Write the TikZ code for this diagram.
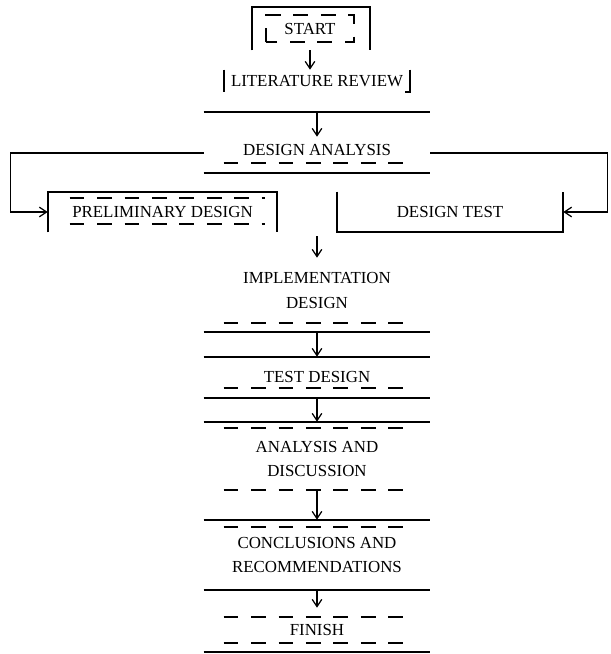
\documentclass[tikz,border=0pt]{standalone}
\usepackage{fontspec}
\setmainfont{Liberation Serif}
\usetikzlibrary{arrows.meta}

\begin{document}
\begin{tikzpicture}[
  x=0.025cm, y=-0.025cm,
  font=\fontsize{12}{17.6}\selectfont,
  >={Straight Barb[length=1.8mm, width=2.4mm]},
  stage/.style={align=center, inner sep=0pt, minimum width=4.65cm},
  sidebox/.style={align=center, inner sep=0pt, minimum height=1cm},
  rule/.style={line width=1.4pt},
  dashrule/.style={line width=1.3pt, dash pattern=on 10.5pt off 9pt},
  flow/.style={->, line width=0.9pt},
]
\useasboundingbox (0,0) rectangle (611,654);

\node[stage, minimum width=2.175cm, minimum height=0.675cm] (start) at (310,28.5) {START};
\node[stage, minimum height=0.55cm] (lit) at (317,81) {LITERATURE REVIEW};
\node[stage, minimum height=0.65cm] (ana) at (317,150) {DESIGN ANALYSIS};
\node[sidebox, minimum width=5.725cm] (prelim) at (162.5,212) {PRELIMINARY DESIGN};
\node[sidebox, minimum width=5.65cm] (dtest) at (450,212) {DESIGN TEST};
\node[stage, minimum height=1.625cm] (impl) at (317,290.5) {IMPLEMENTATION\\DESIGN};
\node[stage, minimum height=0.55cm] (test) at (317,377) {TEST DESIGN};
\node[stage, minimum height=1.55cm] (disc) at (317,459) {ANALYSIS AND\\DISCUSSION};
\node[stage, minimum height=1.4cm] (concl) at (317,555) {CONCLUSIONS AND\\RECOMMENDATIONS};
\node[stage, minimum height=0.65cm] (fin) at (317,630) {FINISH};

% frames, as far as they show
\draw[rule] ([shift={(-14,8)}]start.south west) |- ([shift={(16,-8)}]start.north east) -- ++(0,43);
\draw[dashrule] (start.south west) rectangle (start.north east);
\draw[rule] (lit.north west) -- (lit.south west);
\draw[rule] (lit.north east) -- (lit.south east) -- ++(-5,0);
\draw[rule] ([shift={(-20,20)}]lit.south west) -- ([shift={(20,20)}]lit.south east);
\draw[dashrule] (ana.south west) -- (ana.south east);
\draw[rule] ([shift={(-20,10)}]ana.south west) -- ([shift={(20,10)}]ana.south east);
\draw[rule] (prelim.south west) |- (prelim.north east) -- (prelim.south east);
\draw[dashrule] ([shift={(22,6)}]prelim.north west) -- ([shift={(-12,6)}]prelim.north east);
\draw[dashrule] ([shift={(22,-8)}]prelim.south west) -- ([shift={(-12,-8)}]prelim.south east);
\draw[rule] (dtest.north west) |- (dtest.south east) -- (dtest.north east);
\draw[dashrule] (impl.south west) -- (impl.south east);
\draw[rule] ([shift={(-20,9)}]impl.south west) -- ([shift={(20,9)}]impl.south east);
\draw[rule] ([shift={(-20,-9)}]test.north west) -- ([shift={(20,-9)}]test.north east);
\draw[dashrule] (test.south west) -- (test.south east);
\draw[rule] ([shift={(-20,10)}]test.south west) -- ([shift={(20,10)}]test.south east);
\draw[rule] ([shift={(-20,-6)}]disc.north west) -- ([shift={(20,-6)}]disc.north east);
\draw[dashrule] (disc.north west) -- (disc.north east);
\draw[dashrule] (disc.south west) -- (disc.south east);
\draw[rule] ([shift={(-20,-7)}]concl.north west) -- ([shift={(20,-7)}]concl.north east);
\draw[dashrule] (concl.north west) -- (concl.north east);
\draw[rule] ([shift={(-20,7)}]concl.south west) -- ([shift={(20,7)}]concl.south east);
\draw[dashrule] (fin.north west) -- (fin.north east);
\draw[dashrule] (fin.south west) -- (fin.south east);
\draw[rule] ([shift={(-20,9)}]fin.south west) -- ([shift={(20,9)}]fin.south east);

% connectors
\coordinate (merge) at (317,236);
\draw[flow] ([shift={(0,8)}]start.south) -- (start.south |- lit.north);
\draw[flow] ([shift={(0,20)}]lit.south) -- (ana);
\draw[flow] ([shift={(20,3)}]ana.east) -- ++(177,0) |- (dtest.east);
\draw[flow] ([shift={(-20,3)}]ana.west) -- ++(-193,0) |- (prelim.west);
\draw[flow] (merge) -- (impl.north);
\draw[flow] ([shift={(0,9)}]impl.south) -- ([shift={(0,-9)}]test.north);
\draw[flow] ([shift={(0,10)}]test.south) -- ([shift={(0,-6)}]disc.north);
\draw[flow] (disc) -- ([shift={(0,-7)}]concl.north);
\draw[flow] ([shift={(0,7)}]concl.south) -- ([shift={(0,-9)}]fin.north);
\end{tikzpicture}
\end{document}
